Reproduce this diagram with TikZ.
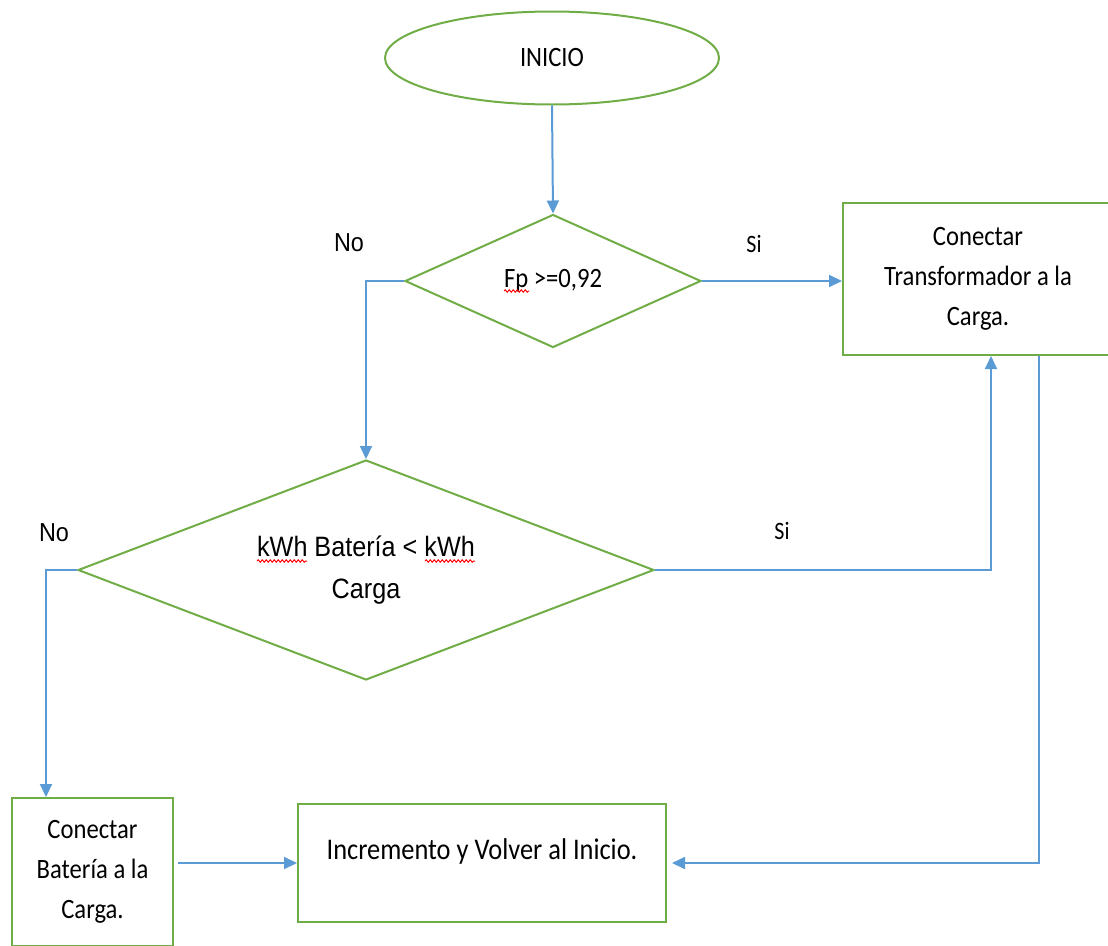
\documentclass[tikz,border=0pt]{standalone}
\usepackage{fontspec}
\setmainfont{Carlito}[FakeStretch=0.88]
\newfontfamily\arialfont{Liberation Sans}[FakeStretch=0.9]
\usetikzlibrary{shapes.geometric,arrows.meta,calc,decorations.pathmorphing}
\definecolor{flowgreen}{HTML}{70AD47}
\definecolor{flowblue}{HTML}{5B9BD5}
\begin{document}
\begin{tikzpicture}[x=1pt,y=-1pt,
  shapeline/.style={draw=flowgreen, line width=2pt},
  txt/.style={font=\fontsize{28}{40}\selectfont, align=center},
  procbox/.style={shapeline, rectangle, inner sep=0pt, txt},
  decision/.style={shapeline, diamond, inner sep=0pt, txt},
  flow/.style={draw=flowblue, line width=2pt, -{Triangle[length=13pt,width=12pt]}},
  nolbl/.style={inner sep=0pt, font=\arialfont\fontsize{26}{30}\selectfont},
  silbl/.style={inner sep=0pt, font=\fontsize{25}{30}\selectfont},
  squiggle/.style={draw=red, line width=1pt, decorate,
    decoration={snake, segment length=4pt, amplitude=1.2pt}}
]
\useasboundingbox (0,0) rectangle (1108,945);

% shapes
\node[shapeline, ellipse, minimum width=334pt, minimum height=93pt, inner sep=0pt, txt]
  (start) at (552,58) {INICIO};
\node[decision, aspect=2.2, minimum width=296pt, minimum height=133pt] (fp) at (553,281)
  {Fp >=0,92};
\node[decision, aspect=2.6, minimum width=576pt, minimum height=220pt,
  font=\arialfont\fontsize{28}{42}\selectfont] (kwh) at (366,570)
  {kWh Batería < kWh\\Carga};
\node[procbox, minimum width=270pt, minimum height=152pt] (trafo) at (978,279)
  {Conectar\\Transformador a la\\Carga.};
\node[procbox, minimum width=161pt, minimum height=148pt] (bat) at (92.5,872)
  {Conectar\\Batería a la\\Carga.};
\node[procbox, minimum width=368pt, minimum height=118pt,
  label={[font=\fontsize{30}{40}\selectfont, yshift=12pt]center:Incremento y Volver al Inicio.}]
  (inc) at (482,863) {};

% spell-check marks under the abbreviations
\draw[squiggle] ($(fp.center)+(-49,10)$) -- ++(25,0);
\draw[squiggle] ($(kwh.center)+(-109,-9)$) -- ++(50,0);
\draw[squiggle] ($(kwh.center)+(59,-9)$) -- ++(50,0);

% connectors
\draw[flow] (start.south) -- (fp.north);
\draw[flow] (fp.east) -- (fp.east -| trafo.west);
\draw[flow] (fp.west) -| (kwh.north);
\draw[flow] (kwh.east) -| ([xshift=13pt]trafo.south);
\draw[flow] (kwh.west) -| ([xshift=-46.5pt]bat.north);
\draw[flow] ([xshift=4pt]bat.east |- inc.west) -- (inc.west);
\draw[flow, shorten >=5pt] ([xshift=61pt]trafo.south) |- (inc.east);

% branch labels
\node[nolbl] (no1) at (349,243) {No};
\node[silbl] (si1) at (754,244) {Si};
\node[nolbl] (no2) at (54,533) {No};
\node[silbl] (si2) at (782,531) {Si};
\end{tikzpicture}
\end{document}
